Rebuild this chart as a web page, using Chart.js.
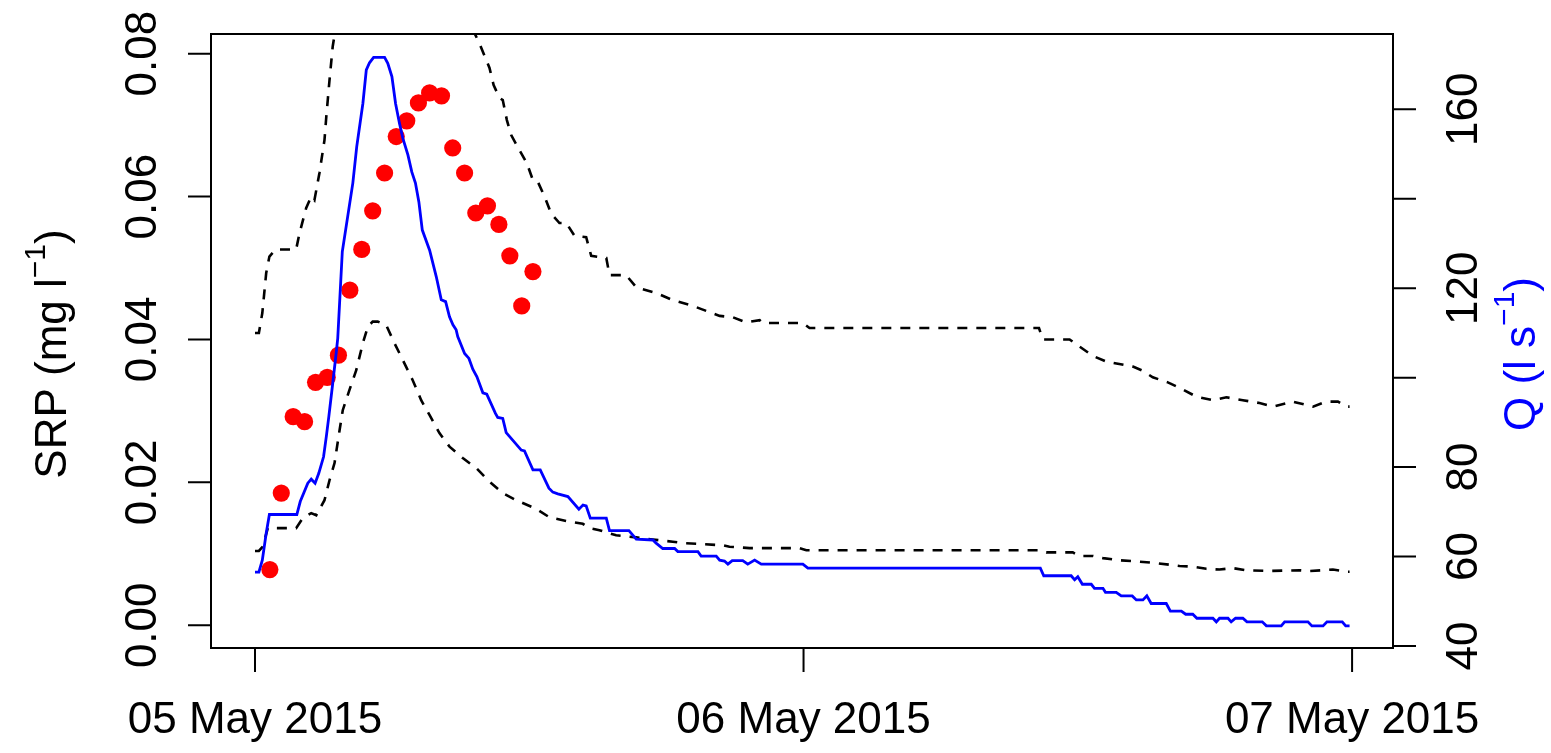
<!DOCTYPE html>
<html>
<head>
<meta charset="utf-8">
<title>SRP and discharge, 05-07 May 2015</title>
<script src="https://cdn.jsdelivr.net/npm/chart.js@4.4.1/dist/chart.umd.min.js"></script>
<style>
  html, body { margin: 0; padding: 0; background: #fff; }
  #wrap { width: 1551px; height: 753px; }
</style>
</head>
<body>
<div id="wrap"><canvas id="srpChart" width="1551" height="753"></canvas></div>
<script>
// time is in hours since 05 May 2015 00:00

// grab samples of SRP (mg/l)
const sampleHours = [0.65, 1.15, 1.67, 2.17, 2.65, 3.16, 3.65, 4.15, 4.67, 5.15,
    5.67, 6.18, 6.64, 7.15, 7.64, 8.16, 8.65, 9.17, 9.66, 10.17,
    10.67, 11.15, 11.67, 12.16];
const srpSamples = [0.0078, 0.0185, 0.0292, 0.0285, 0.0340, 0.0347, 0.0378, 0.0469, 0.0526, 0.0580,
    0.0633, 0.0684, 0.0706, 0.0731, 0.0745, 0.0741, 0.0668, 0.0633, 0.0577, 0.0587,
    0.0561, 0.0517, 0.0447, 0.0495];

// discharge Q (l/s)
const qHours = [0, 0.17, 0.32, 0.49, 0.63, 1.83, 1.98, 2.31, 2.46, 2.63,
    2.79, 3.00, 3.12, 3.23, 3.40, 3.55, 3.62, 3.82, 4.28, 4.45,
    4.72, 4.87, 5.01, 5.19, 5.67, 5.81, 5.99, 6.15, 6.32, 6.47,
    6.69, 6.86, 7.02, 7.17, 7.32, 7.64, 7.93, 8.15, 8.34, 8.51,
    8.66, 8.80, 8.87, 9.17, 9.36, 9.53, 9.71, 9.97, 10.14, 10.52,
    10.62, 10.84, 10.99, 11.65, 11.79, 12.16, 12.48, 12.86, 13.03, 13.25,
    13.69, 14.17, 14.35, 14.49, 14.67, 15.37, 15.51, 16.36, 16.68, 17.41,
    17.55, 17.84, 18.36, 18.50, 19.38, 19.52, 20.18, 20.33, 20.54, 20.69,
    20.88, 21.34, 21.56, 21.86, 22.15, 23.97, 24.19, 34.36, 34.51, 35.71,
    35.86, 36.00, 36.20, 36.59, 36.73, 37.10, 37.21, 37.68, 37.90, 38.38,
    38.56, 38.85, 39.02, 39.21, 39.87, 40.05, 40.53, 40.72, 41.03, 41.21,
    41.91, 42.06, 42.20, 42.57, 42.71, 42.90, 43.22, 43.40, 44.07, 44.25,
    44.90, 45.05, 46.07, 46.24, 46.73, 46.90, 47.57, 47.72, 47.89];
const qValues = [56.5, 56.5, 59.2, 65.2, 69.4, 69.4, 72.3, 76.4, 77.3, 76.4,
    78.6, 82.3, 86.8, 91.3, 98.7, 105.4, 108.8, 128.2, 143.5, 151.6,
    161.3, 168.8, 170.4, 171.6, 171.6, 170.3, 167.3, 161.3, 156.9, 153.5,
    149.8, 146.0, 143.5, 139.3, 133.0, 128.5, 122.6, 117.4, 117.0, 113.6,
    111.8, 110.7, 109.2, 105.4, 104.3, 101.9, 100.2, 96.6, 96.3, 92.0,
    91.1, 90.9, 87.7, 83.8, 83.6, 79.4, 79.4, 75.3, 74.4, 74.0,
    73.4, 70.6, 71.5, 71.3, 68.6, 68.6, 65.8, 65.8, 63.9, 63.7,
    63.0, 61.8, 61.8, 61.1, 61.1, 60.1, 60.1, 59.2, 59.0, 58.3,
    59.1, 59.1, 58.3, 59.2, 58.3, 58.3, 57.4, 57.4, 55.7, 55.7,
    54.8, 55.5, 53.8, 53.8, 52.9, 52.9, 52.0, 52.0, 51.2, 51.2,
    50.3, 50.3, 51.2, 49.5, 49.5, 47.8, 47.8, 47.1, 47.1, 46.2,
    46.2, 45.4, 46.2, 46.2, 45.4, 46.2, 46.2, 45.4, 45.4, 44.5,
    44.5, 45.4, 45.4, 44.5, 44.5, 45.4, 45.4, 44.5, 44.5];

// upper and lower SRP bounds (dashed)
const upperHours = [0, 0.17, 0.32, 0.49, 0.63, 0.90, 1.80, 1.95, 2.24, 2.46,
    2.60, 2.82, 3.04, 3.12, 3.26, 3.40, 3.48,
    3.8, 4.5, 5.3, 6.5, 8.0, 9.0,
    9.85, 10.26, 10.44, 10.70, 10.84, 11.02, 11.21, 11.57, 11.89, 12.16,
    12.37, 12.67, 12.96, 13.32, 13.62, 13.98, 14.49, 14.71, 15.37, 15.51,
    16.24, 16.68, 17.55, 18.28, 19.16, 19.74, 20.33, 20.91, 21.49, 22.08,
    22.22, 23.97, 24.26, 34.30, 34.47, 35.64, 36.08, 36.66, 37.25, 38.41,
    38.85, 39.28, 39.94, 40.60, 41.18, 41.91, 42.50, 43.22, 43.95, 44.54,
    45.41, 46.29, 46.87, 47.38, 47.75, 47.89];
const upperSrp = [0.0409, 0.0409, 0.0437, 0.0493, 0.0516, 0.0526, 0.0526, 0.0549, 0.0584, 0.0600,
    0.0595, 0.0633, 0.0679, 0.0712, 0.0763, 0.0810, 0.0826,
    0.092, 0.102, 0.106, 0.103, 0.095, 0.087,
    0.0812, 0.0780, 0.0756, 0.0738, 0.0735, 0.0707, 0.0686, 0.0665, 0.0647, 0.0623,
    0.0621, 0.0600, 0.0576, 0.0563, 0.0563, 0.0545, 0.0543, 0.0517, 0.0514, 0.0490,
    0.0490, 0.0473, 0.0465, 0.0455, 0.0447, 0.0440, 0.0433, 0.0431, 0.0424, 0.0427,
    0.0423, 0.0423, 0.0416, 0.0416, 0.0400, 0.0400, 0.0390, 0.0377, 0.0369, 0.0362,
    0.0356, 0.0347, 0.0340, 0.0330, 0.0320, 0.0315, 0.0319, 0.0315, 0.0311, 0.0306,
    0.0313, 0.0306, 0.0313, 0.0313, 0.0306, 0.0306];

const lowerHours = [0, 0.17, 0.34, 0.56, 1.80, 2.09, 2.46, 2.68, 3.04, 3.26,
    3.48, 3.70, 3.84, 4.13, 4.43, 4.72, 4.94, 5.15, 5.37, 5.74,
    6.10, 6.47, 6.90, 7.27, 7.64, 8.07, 8.51, 9.09, 9.68, 10.26,
    10.84, 11.43, 11.94, 12.30, 12.89, 13.62, 14.34, 14.64, 15.07, 15.80,
    16.68, 17.41, 18.28, 18.72, 20.47, 20.76, 21.64, 23.82, 24.12, 34.33,
    34.62, 35.78, 36.08, 36.66, 37.10, 37.83, 38.70, 39.43, 40.45, 41.03,
    41.62, 42.20, 42.78, 43.37, 44.39, 45.70, 46.14, 46.72, 47.16, 47.75,
    47.89];
const lowerSrp = [0.0104, 0.0104, 0.0110, 0.0136, 0.0136, 0.0150, 0.0157, 0.0154, 0.0175, 0.0203,
    0.0227, 0.0273, 0.0301, 0.0329, 0.0357, 0.0395, 0.0418, 0.0425, 0.0425, 0.0420,
    0.0395, 0.0371, 0.0343, 0.0315, 0.0294, 0.0269, 0.0250, 0.0234, 0.0220, 0.0201,
    0.0185, 0.0175, 0.0168, 0.0163, 0.0151, 0.0146, 0.0142, 0.0136, 0.0133, 0.0126,
    0.0123, 0.0120, 0.0117, 0.0115, 0.0112, 0.0110, 0.0108, 0.0108, 0.0105, 0.0105,
    0.0102, 0.0102, 0.0097, 0.0097, 0.0094, 0.0091, 0.0089, 0.0087, 0.0083, 0.0082,
    0.0079, 0.0078, 0.0080, 0.0077, 0.0076, 0.0077, 0.0076, 0.0077, 0.0078, 0.0075,
    0.0075];

// axes
const dateTicks = [0, 24, 48];
const dateLabels = ['05 May 2015', '06 May 2015', '07 May 2015'];
const srpTicks = [0, 0.02, 0.04, 0.06, 0.08];
const srpTickLabels = ['0.00', '0.02', '0.04', '0.06', '0.08'];
const qTicks = [40, 60, 80, 100, 120, 140, 160];
const qTickLabels = ['40', '60', '80', '', '120', '', '160'];

const FONT = '"Liberation Sans", Arial, Helvetica, sans-serif';
const FS = 44;

const toPoints = (xs, ys) => xs.map((x, i) => ({ x: x, y: ys[i] }));

function rotatedText(ctx, x, yCenter, parts, color) {
    // parts: [{t, size, rise}], drawn reading bottom-to-top, baseline at x
    let total = 0;
    parts.forEach(p => {
        ctx.font = p.size + 'px ' + FONT;
        p.w = ctx.measureText(p.t).width;
        total += p.w;
    });
    ctx.save();
    ctx.translate(x, yCenter);
    ctx.rotate(-Math.PI / 2);
    ctx.fillStyle = color;
    ctx.textAlign = 'left';
    ctx.textBaseline = 'alphabetic';
    let pos = -total / 2;
    parts.forEach(p => {
        ctx.font = p.size + 'px ' + FONT;
        ctx.fillText(p.t, pos, -p.rise);
        pos += p.w;
    });
    ctx.restore();
}

const axesPlugin = {
    id: 'rAxes',
    afterDatasetsDraw(chart) {
        const ctx = chart.ctx;
        const a = chart.chartArea;
        const xs = chart.scales.x, ys = chart.scales.ySrp, yq = chart.scales.yQ;
        ctx.save();
        ctx.strokeStyle = '#000';
        ctx.lineWidth = 2;
        ctx.strokeRect(a.left, a.top, a.right - a.left, a.bottom - a.top);

        // bottom axis
        const x0 = xs.getPixelForValue(dateTicks[0]);
        const x1 = xs.getPixelForValue(dateTicks[dateTicks.length - 1]);
        ctx.beginPath();
        ctx.moveTo(x0, a.bottom); ctx.lineTo(x1, a.bottom);
        dateTicks.forEach(t => {
            const px = xs.getPixelForValue(t);
            ctx.moveTo(px, a.bottom); ctx.lineTo(px, a.bottom + 24);
        });
        ctx.stroke();
        ctx.fillStyle = '#000';
        ctx.font = FS + 'px ' + FONT;
        ctx.textAlign = 'center';
        ctx.textBaseline = 'alphabetic';
        dateTicks.forEach((t, i) => ctx.fillText(dateLabels[i], xs.getPixelForValue(t), 733));

        // left axis
        ctx.beginPath();
        srpTicks.forEach(t => {
            const py = ys.getPixelForValue(t);
            ctx.moveTo(a.left, py); ctx.lineTo(a.left - 23, py);
        });
        ctx.stroke();
        srpTicks.forEach((t, i) => rotatedText(ctx, 156, ys.getPixelForValue(t), [{ t: srpTickLabels[i], size: FS, rise: 0 }], '#000'));

        // right axis
        ctx.beginPath();
        ctx.moveTo(a.right, yq.getPixelForValue(qTicks[0]));
        ctx.lineTo(a.right, yq.getPixelForValue(qTicks[qTicks.length - 1]));
        qTicks.forEach(t => {
            const py = yq.getPixelForValue(t);
            ctx.moveTo(a.right, py); ctx.lineTo(a.right + 23, py);
        });
        ctx.stroke();
        qTicks.forEach((t, i) => {
            if (qTickLabels[i]) rotatedText(ctx, 1477, yq.getPixelForValue(t), [{ t: qTickLabels[i], size: FS, rise: 0 }], '#000');
        });

        // axis titles
        rotatedText(ctx, 66, 354, [
            { t: 'SRP (mg l', size: FS, rise: 0 },
            { t: '\u22121', size: 30, rise: 21 },
            { t: ')', size: FS, rise: 0 }
        ], '#000');
        rotatedText(ctx, 1535, 354, [
            { t: 'Q (l s', size: FS, rise: 0 },
            { t: '\u22121', size: 30, rise: 21 },
            { t: ')', size: FS, rise: 0 }
        ], '#0000ff');
        ctx.restore();
    }
};

const chart = new Chart(document.getElementById('srpChart'), {
    type: 'scatter',
    data: {
        datasets: [
            {
                label: 'Q',
                data: toPoints(qHours, qValues),
                yAxisID: 'yQ',
                showLine: true,
                borderColor: '#0000ff',
                borderWidth: 2.8,
                pointRadius: 0,
                tension: 0,
                order: 0
            },
            {
                label: 'SRP',
                data: toPoints(sampleHours, srpSamples),
                yAxisID: 'ySrp',
                showLine: false,
                pointRadius: 8.6,
                pointBackgroundColor: '#ff0000',
                pointBorderWidth: 0,
                order: 1
            },
            {
                label: 'upper',
                data: toPoints(upperHours, upperSrp),
                yAxisID: 'ySrp',
                showLine: true,
                borderColor: '#000',
                borderWidth: 2.6,
                borderDash: [10, 9],
                pointRadius: 0,
                order: 2
            },
            {
                label: 'lower',
                data: toPoints(lowerHours, lowerSrp),
                yAxisID: 'ySrp',
                showLine: true,
                borderColor: '#000',
                borderWidth: 2.6,
                borderDash: [10, 9],
                pointRadius: 0,
                order: 2
            }
        ]
    },
    options: {
        responsive: false,
        animation: false,
        devicePixelRatio: 1,
        events: [],
        layout: { padding: { left: 211, top: 34, right: 158, bottom: 105 } },
        plugins: { legend: { display: false }, tooltip: { enabled: false } },
        scales: {
            x: { type: 'linear', min: -1.925, max: 49.79, display: false },
            ySrp: { type: 'linear', position: 'left', min: -0.00318, max: 0.08275, display: false },
            yQ: { type: 'linear', position: 'right', min: 39.55, max: 176.84, display: false }
        }
    },
    plugins: [axesPlugin]
});
</script>
</body>
</html>
